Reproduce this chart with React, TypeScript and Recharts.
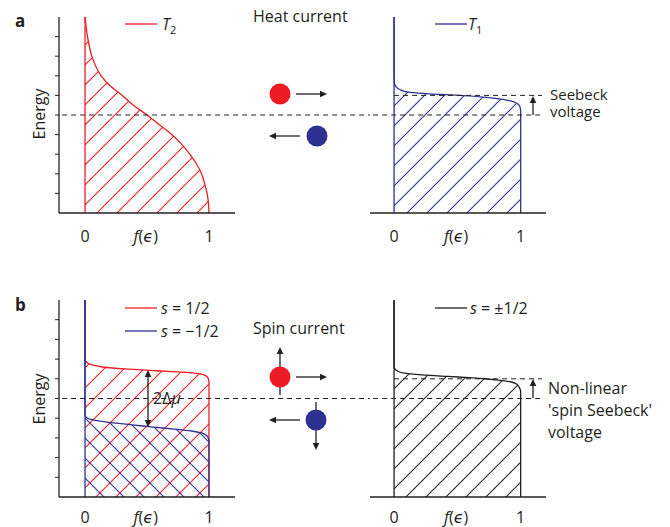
import React from "react";
import { ComposedChart, Area, XAxis, YAxis, ReferenceLine } from "recharts";

// colours lifted from the figure
const INK = "#231f20";
const RED = "#ed1c24";
const BLUE = "#2e3192";
const FONT = '"Open Sans", "DejaVu Sans", sans-serif';
const FS = 16;

// shared axes
const ENERGY_TICKS = [1, 2, 3, 4, 5, 6, 7, 8, 9];
const F_TICKS = [0, 0.49, 1];
const MU = 5; // chemical potential (the long dashed line)
const MU_SHIFTED = 6; // shifted level on the cold side

// panel a, hot side (T2)
const hotEnergy = [0, 0.5, 1, 1.5, 2, 2.5, 3, 3.5, 4, 4.5, 5, 5.5, 6, 6.5, 7, 8, 9, 10];
const hotOccupation = [1, 0.996, 0.985, 0.965, 0.94, 0.9, 0.845, 0.78, 0.7, 0.6, 0.5, 0.39, 0.3, 0.2, 0.13, 0.055, 0.02, 0];

// panel a, cold side (T1)
const coldEnergy = [0, 5.2, 5.4, 5.55, 5.68, 5.8, 5.9, 6.0, 6.07, 6.15, 6.3, 6.45, 6.6, 7, 10];
const coldOccupation = [1, 1, 0.995, 0.98, 0.94, 0.86, 0.73, 0.52, 0.3, 0.13, 0.045, 0.015, 0.003, 0, 0];

// panel b, spin-split side
const spinEnergy = [0, 2.8, 2.95, 3.12, 3.25, 3.35, 3.45, 3.55, 3.65, 3.75, 3.85, 3.95, 4.05, 4.15,
  5.8, 5.95, 6.1, 6.2, 6.28, 6.35, 6.42, 6.5, 6.6, 6.7, 6.8, 6.9, 7.0, 10];
const spinUpOccupation = [1, 1, 1, 1, 1, 1, 1, 1, 1, 1, 1, 1, 1, 1,
  1, 0.997, 0.985, 0.96, 0.9, 0.74, 0.55, 0.32, 0.14, 0.06, 0.02, 0.006, 0, 0];
const spinDownOccupation = [1, 1, 0.997, 0.98, 0.94, 0.86, 0.72, 0.55, 0.4, 0.25, 0.12, 0.04, 0.01, 0,
  0, 0, 0, 0, 0, 0, 0, 0, 0, 0, 0, 0, 0, 0];

// panel b, unsplit side
const sharedEnergy = [0, 5.35, 5.55, 5.72, 5.85, 5.95, 6.05, 6.12, 6.2, 6.3, 6.4, 6.5, 6.6, 10];
const sharedOccupation = [1, 1, 0.99, 0.97, 0.92, 0.8, 0.62, 0.42, 0.22, 0.07, 0.025, 0.008, 0, 0];

const hotRows = hotEnergy.map((E, i) => ({ E, f: hotOccupation[i] }));
const coldRows = coldEnergy.map((E, i) => ({ E, f: coldOccupation[i] }));
const spinRows = spinEnergy.map((E, i) => ({ E, up: spinUpOccupation[i], down: spinDownOccupation[i] }));
const sharedRows = sharedEnergy.map((E, i) => ({ E, f: sharedOccupation[i] }));

type Series = { key: string; color: string; angle: number };

function makeTick(dy: number) {
  return function FTick(props: any) {
    const { x, y, payload } = props;
    const v = payload.value;
    const common = { x, y: y + dy, textAnchor: "middle" as const, fill: INK, fontSize: FS, fontFamily: FONT };
    if (v === 0 || v === 1) return <text {...common}>{v}</text>;
    return (
      <text {...common}>
        <tspan fontStyle="italic">f</tspan>(<tspan fontStyle="italic">ϵ</tspan>)
      </text>
    );
  };
}
const TopTick = makeTick(21);
const BottomTick = makeTick(18);
// energy ticks carry no labels, only the little marks
const NoLabel = () => <g />;

const AXIS_W = 10;

function FermiPanel({
  pid, rows, series, width, height, plotLeft, plotRight, plotBottom, fDomain,
  edgeColor, showEnergyAxis, muEnd, shiftedEnd, Tick,
}: {
  pid: string; rows: any[]; series: Series[]; width: number; height: number;
  plotLeft: number; plotRight: number; plotBottom: number; fDomain: [number, number];
  edgeColor: string; showEnergyAxis: boolean; muEnd: number; shiftedEnd?: number; Tick: any;
}) {
  return (
    <ComposedChart
      layout="vertical"
      width={width}
      height={height}
      data={rows}
      margin={{ top: 17, left: plotLeft - (showEnergyAxis ? AXIS_W : 0), right: width - plotRight, bottom: 0 }}
    >
      <defs>
        {series.map((s) => (
          <pattern
            key={s.key}
            id={`${pid}-${s.key}`}
            patternUnits="userSpaceOnUse"
            width={14.14}
            height={14.14}
            patternTransform={`rotate(${s.angle})`}
          >
            <line x1={7} y1={0} x2={7} y2={14.14} stroke={s.color} strokeWidth={1} />
          </pattern>
        ))}
      </defs>
      <XAxis
        type="number"
        domain={fDomain}
        ticks={F_TICKS}
        interval={0}
        allowDataOverflow
        tick={<Tick />}
        tickLine={false}
        axisLine={{ stroke: INK, strokeWidth: 1.3 }}
        height={height - plotBottom}
      />
      <YAxis
        type="number"
        dataKey="E"
        domain={[0, 10]}
        reversed
        ticks={ENERGY_TICKS}
        interval={0}
        tick={<NoLabel />}
        tickSize={4}
        width={showEnergyAxis ? AXIS_W : 0}
        hide={!showEnergyAxis}
        axisLine={{ stroke: INK, strokeWidth: 1.3 }}
        tickLine={{ stroke: INK, strokeWidth: 1 }}
      />
      {series.map((s) => (
        <Area
          key={s.key}
          dataKey={s.key}
          type="monotone"
          baseValue={0}
          stroke={s.color}
          strokeWidth={1.3}
          fill={`url(#${pid}-${s.key})`}
          fillOpacity={1}
          dot={false}
          activeDot={false}
          isAnimationActive={false}
        />
      ))}
      <ReferenceLine x={0} stroke={edgeColor} strokeWidth={1.3} />
      <ReferenceLine
        segment={[{ x: fDomain[0] + 0.025, y: MU }, { x: muEnd, y: MU }]}
        ifOverflow="visible"
        stroke={INK}
        strokeWidth={1}
        strokeDasharray="5 4"
      />
      {shiftedEnd !== undefined && (
        <ReferenceLine
          segment={[{ x: 0, y: MU_SHIFTED }, { x: shiftedEnd, y: MU_SHIFTED }]}
          ifOverflow="visible"
          stroke={INK}
          strokeWidth={1}
          strokeDasharray="5 4"
        />
      )}
    </ComposedChart>
  );
}

function Arrow({ x1, y1, x2, y2, both = false }: { x1: number; y1: number; x2: number; y2: number; both?: boolean }) {
  const a = Math.atan2(y2 - y1, x2 - x1);
  const L = 7;
  const W = 3.3;
  const head = (x: number, y: number, ang: number) => {
    const bx = x - L * Math.cos(ang);
    const by = y - L * Math.sin(ang);
    return `${x},${y} ${bx - W * Math.sin(ang)},${by + W * Math.cos(ang)} ${bx + W * Math.sin(ang)},${by - W * Math.cos(ang)}`;
  };
  const sx = both ? x1 + L * 0.8 * Math.cos(a) : x1;
  const sy = both ? y1 + L * 0.8 * Math.sin(a) : y1;
  const ex = x2 - L * 0.8 * Math.cos(a);
  const ey = y2 - L * 0.8 * Math.sin(a);
  return (
    <g>
      <line x1={sx} y1={sy} x2={ex} y2={ey} stroke={INK} strokeWidth={1.3} />
      <polygon points={head(x2, y2, a)} fill={INK} />
      {both && <polygon points={head(x1, y1, a + Math.PI)} fill={INK} />}
    </g>
  );
}

function Annotations() {
  const t = { fill: INK, fontFamily: FONT, fontSize: FS };
  return (
    <svg width={670} height={527} style={{ position: "absolute", left: 0, top: 0, pointerEvents: "none" }}>
      <text x={15} y={27} {...t} fontSize={17} fontWeight="bold">a</text>
      <text x={15} y={311} {...t} fontSize={17} fontWeight="bold">b</text>
      <text transform="translate(45,114) rotate(-90)" textAnchor="middle" {...t}>Energy</text>
      <text transform="translate(45,399) rotate(-90)" textAnchor="middle" {...t}>Energy</text>

      {/* legends */}
      <line x1={125} y1={24} x2={157} y2={24} stroke={RED} strokeWidth={1.3} />
      <text x={162} y={30} {...t}><tspan fontStyle="italic">T</tspan><tspan dy={4} fontSize={11}>2</tspan></text>
      <line x1={435} y1={24} x2={467} y2={24} stroke={BLUE} strokeWidth={1.3} />
      <text x={468} y={30} {...t}><tspan fontStyle="italic">T</tspan><tspan dy={4} fontSize={11}>1</tspan></text>
      <line x1={125} y1={308} x2={157} y2={308} stroke={RED} strokeWidth={1.3} />
      <text x={161} y={314} {...t}><tspan fontStyle="italic">s</tspan> = 1/2</text>
      <line x1={125} y1={331} x2={157} y2={331} stroke={BLUE} strokeWidth={1.3} />
      <text x={161} y={337} {...t}><tspan fontStyle="italic">s</tspan> = −1/2</text>
      <line x1={435} y1={308} x2={467} y2={308} stroke={INK} strokeWidth={1.3} />
      <text x={470} y={314} {...t}><tspan fontStyle="italic">s</tspan> = ±1/2</text>

      {/* heat current */}
      <text x={253} y={22} {...t}>Heat current</text>
      <circle cx={280} cy={94} r={10.5} fill={RED} />
      <Arrow x1={296} y1={94} x2={327} y2={94} />
      <circle cx={317} cy={136} r={10.5} fill={BLUE} />
      <Arrow x1={300} y1={136} x2={269} y2={136} />

      {/* spin current */}
      <text x={253} y={334} {...t}>Spin current</text>
      <Arrow x1={280} y1={395} x2={280} y2={347} />
      <circle cx={280} cy={377} r={10.5} fill={RED} />
      <Arrow x1={296} y1={377} x2={327} y2={377} />
      <Arrow x1={316} y1={402} x2={316} y2={450} />
      <circle cx={316} cy={420} r={10.5} fill={BLUE} />
      <Arrow x1={300} y1={420} x2={269} y2={420} />

      {/* voltages */}
      <Arrow x1={533} y1={115} x2={533} y2={96} />
      <text {...t} fontSize={15}>
        <tspan x={550} y={100}>Seebeck</tspan>
        <tspan x={550} dy={17}>voltage</tspan>
      </text>
      <Arrow x1={148} y1={370} x2={148} y2={427} both />
      <text x={153} y={404} {...t}>2Δ<tspan fontStyle="italic">μ</tspan></text>
      <Arrow x1={533} y1={398} x2={533} y2={379} />
      <text {...t}>
        <tspan x={548} y={394}>Non-linear</tspan>
        <tspan x={548} dy={22}>'spin Seebeck'</tspan>
        <tspan x={548} dy={22}>voltage</tspan>
      </text>
    </svg>
  );
}

export default function App() {
  return (
    <div style={{ position: "absolute", left: 0, top: 0, width: 670, height: 527, background: "#fff", fontFamily: FONT }}>
      <div style={{ position: "absolute", left: 0, top: 0 }}>
        <FermiPanel
          pid="hot" rows={hotRows} series={[{ key: "f", color: RED, angle: 45 }]}
          width={370} height={250} plotLeft={59} plotRight={235} plotBottom={213}
          fDomain={[-0.21, 1.21]} edgeColor={RED} showEnergyAxis muEnd={2.3} Tick={TopTick}
        />
      </div>
      <div style={{ position: "absolute", left: 370, top: 0 }}>
        <FermiPanel
          pid="cold" rows={coldRows} series={[{ key: "f", color: BLUE, angle: 45 }]}
          width={300} height={250} plotLeft={0} plotRight={176} plotBottom={213}
          fDomain={[-0.19, 1.2]} edgeColor={BLUE} showEnergyAxis={false} muEnd={1.169} shiftedEnd={1.169}
          Tick={TopTick}
        />
      </div>
      <div style={{ position: "absolute", left: 0, top: 283 }}>
        <FermiPanel
          pid="spin" rows={spinRows}
          series={[{ key: "up", color: RED, angle: 45 }, { key: "down", color: BLUE, angle: -45 }]}
          width={370} height={244} plotLeft={59} plotRight={235} plotBottom={214}
          fDomain={[-0.21, 1.21]} edgeColor={BLUE} showEnergyAxis muEnd={2.3} Tick={BottomTick}
        />
      </div>
      <div style={{ position: "absolute", left: 370, top: 283 }}>
        <FermiPanel
          pid="shared" rows={sharedRows} series={[{ key: "f", color: INK, angle: 45 }]}
          width={300} height={244} plotLeft={0} plotRight={176} plotBottom={214}
          fDomain={[-0.19, 1.2]} edgeColor={INK} showEnergyAxis={false} muEnd={1.169} shiftedEnd={1.169}
          Tick={BottomTick}
        />
      </div>
      <Annotations />
    </div>
  );
}
